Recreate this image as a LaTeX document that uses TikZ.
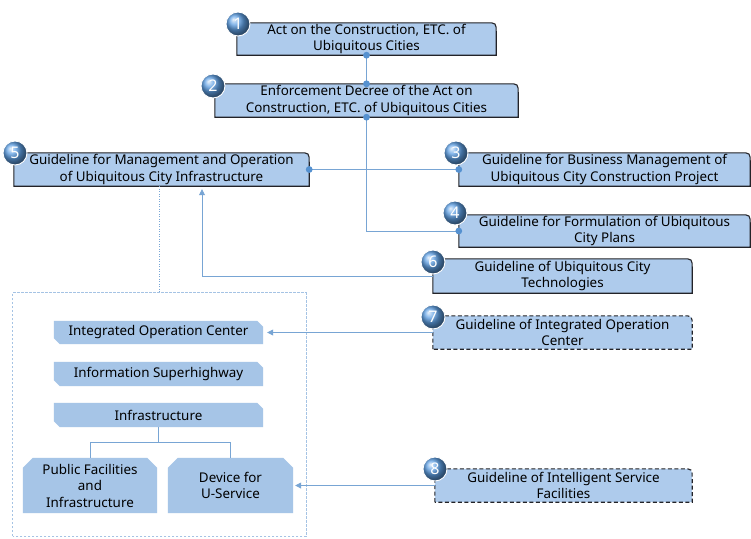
\documentclass[tikz,border=0pt]{standalone}
\usepackage{fontspec}
\setmainfont{Noto Sans}
\usetikzlibrary{backgrounds,arrows.meta,calc}
\definecolor{boxfill}{RGB}{174,203,236}
\definecolor{innerfill}{RGB}{166,197,231}
\definecolor{boxline}{RGB}{35,35,40}
\definecolor{conn}{RGB}{120,165,212}
\definecolor{dotc}{RGB}{85,145,208}
\definecolor{contc}{RGB}{165,195,228}
\definecolor{badgeblue}{RGB}{95,160,228}
\newcommand\lawshape[2][]{%
  \filldraw[fill=boxfill,draw=boxline,line width=1.1pt,#1]
    (#2.south west) -- (#2.north west) -- ($(#2.north east)+(-10,0)$)
    .. controls (#2.north east) .. ($(#2.north east)+(0,10)$)
    -- (#2.south east) -- cycle;}
\newcommand\snipshape[1]{%
  \fill[innerfill]
    (#1.north west) -- ($(#1.north east)+(-6,0)$) -- ($(#1.north east)+(0,6)$)
    -- (#1.south east) -- ($(#1.south west)+(6,0)$) -- ($(#1.south west)+(0,-6)$) -- cycle;}
\newcommand\topsnip[1]{%
  \fill[innerfill]
    (#1.south west) -- ($(#1.north west)+(0,10)$) -- ($(#1.north west)+(10,0)$)
    -- ($(#1.north east)+(-10,0)$) -- ($(#1.north east)+(0,10)$) -- (#1.south east) -- cycle;}
\begin{document}
\begin{tikzpicture}[x=1pt,y=-1pt,
  font=\fontsize{13.4}{16.5}\selectfont,
  lawnode/.style={rectangle,inner sep=0pt,align=center},
  badge/.style={circle,minimum size=24pt,inner sep=0pt,shading=ball,ball color=badgeblue,
    draw=white,line width=0.9pt,text=white,font=\fontsize{16}{16}\selectfont\bfseries},
  link/.style={draw=conn,line width=0.8pt},
  arr/.style={link,-{Triangle[length=6pt,width=6pt]},color=conn},
  dotmark/.style={fill=dotc},
]
\useasboundingbox (0,0) rectangle (751,538);

% law / guideline boxes
\node[lawnode,minimum width=259pt,minimum height=32pt] (B1) at (366.5,39) {Act on the Construction, ETC. of\\Ubiquitous Cities};
\node[lawnode,minimum width=303pt,minimum height=33pt] (B2) at (366.5,100.5) {Enforcement Decree of the Act on\\Construction, ETC. of Ubiquitous Cities};
\node[lawnode,minimum width=295pt,minimum height=33pt] (B5) at (161.5,169.5) {Guideline for Management and Operation\\of Ubiquitous City Infrastructure};
\node[lawnode,minimum width=291pt,minimum height=33pt] (B3) at (604.5,169.5) {Guideline for Business Management of\\Ubiquitous City Construction Project};
\node[lawnode,minimum width=291pt,minimum height=32pt] (B4) at (604.5,231) {Guideline for Formulation of Ubiquitous\\City Plans};
\node[lawnode,minimum width=259pt,minimum height=34pt] (B6) at (562.5,276) {Guideline of Ubiquitous City\\Technologies};
\node[lawnode,minimum width=259pt,minimum height=33pt] (B7) at (562.5,332.5) {Guideline of Integrated Operation\\Center};
\node[lawnode,minimum width=257pt,minimum height=33pt] (B8) at (563.5,485.5) {Guideline of Intelligent Service\\Facilities};

% container and inner boxes
\node[rectangle,inner sep=0pt,minimum width=293pt,minimum height=243pt] (C) at (159.5,414.5) {};
\node[lawnode,minimum width=209pt,minimum height=23pt] (IOC) at (158.5,332.5) {Integrated Operation Center};
\node[lawnode,minimum width=209pt,minimum height=24pt] (ISH) at (158.5,374) {Information Superhighway};
\node[lawnode,minimum width=209pt,minimum height=24pt] (INF) at (158.5,415) {Infrastructure};
\node[lawnode,minimum width=134pt,minimum height=55pt] (PF) at (90,485.5) {Public Facilities\\and\\Infrastructure};
\node[lawnode,minimum width=125pt,minimum height=55pt] (DEV) at (230.5,485.5) {Device for\\U-Service};

\begin{scope}[on background layer]
  \fill[white] (0,0) rectangle (751,538);
  \lawshape{B1}\lawshape{B2}\lawshape{B5}\lawshape{B3}\lawshape{B4}\lawshape{B6}
  \lawshape[dashed,dash pattern=on 4pt off 2.5pt]{B7}
  \lawshape[dashed,dash pattern=on 4pt off 2.5pt]{B8}
  \draw[contc,line width=0.7pt,dash pattern=on 2.5pt off 1.5pt] (C.south west) rectangle (C.north east);
  \snipshape{IOC}\snipshape{ISH}\snipshape{INF}
  \topsnip{PF}\topsnip{DEV}
\end{scope}

% connectors
\draw[link] (B1.south) -- (B2.north);
\draw[link] (B2.south) |- (B4.west);
\draw[link] (B5.east) -- (B3.west);
\draw[arr] (B6.west) -| ($(B5.south)+(40.5,3)$);
\draw[link,dash pattern=on 1pt off 1.5pt] (B5.south -| C.north) -- (C.north);
\draw[link] (INF.south) -- ++(0,15) coordinate (T);
\draw[link] (PF.north) |- (T) -| (DEV.north);
\draw[arr,shorten >=4pt] (B7.west) -- (IOC.east);
\draw[arr,shorten >=2pt] (B8.west |- DEV.east) -- (DEV.east);

% dots
\foreach \p in {B1.south,B2.north,B2.south,B4.west,B5.east,B3.west}
  \fill[dotmark] (\p) circle (3.4pt);

% badges
\node[badge] (N1) at (238,24) {1};
\node[badge] (N2) at (213,86) {2};
\node[badge] (N3) at (456,153) {3};
\node[badge] (N4) at (455,213) {4};
\node[badge] (N5) at (15,153) {5};
\node[badge] (N6) at (433,262) {6};
\node[badge] (N7) at (433,317) {7};
\node[badge] (N8) at (435,469) {8};
\end{tikzpicture}
\end{document}
